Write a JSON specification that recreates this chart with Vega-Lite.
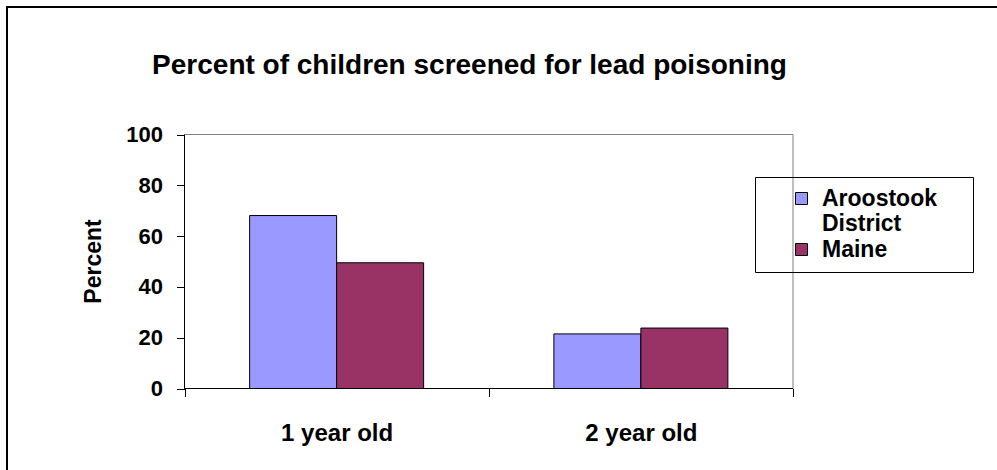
{
  "$schema": "https://vega.github.io/schema/vega-lite/v6.json",
  "width": 1000,
  "height": 470,
  "autosize": {"type": "none"},
  "padding": {"left": 7, "top": 7, "right": 0, "bottom": 0},
  "background": "white",
  "title": {
    "text": "Percent of children screened for lead poisoning",
    "font": "Liberation Sans",
    "fontSize": 28,
    "fontWeight": "bold",
    "color": "black",
    "anchor": "middle",
    "orient": "top",
    "baseline": "alphabetic",
    "offset": 0,
    "dx": -37.5,
    "dy": 95
  },
  "config": {
    "view": {"stroke": "black", "strokeWidth": 2},
    "axis": {"grid": false}
  },
  "layer": [
    {
      "data": {"values": [{"age": "1 year old"}, {"age": "2 year old"}]},
      "mark": {"type": "bar", "fillOpacity": 0, "stroke": "#808080", "strokeWidth": 1},
      "encoding": {
        "x": {
          "field": "age",
          "type": "nominal",
          "scale": {"type": "band", "domain": ["1 year old", "2 year old"], "paddingInner": 0, "paddingOuter": 0.6434, "align": 0.4534},
          "axis": {
            "orient": "bottom",
            "offset": -88.5,
            "domain": false,
            "tickBand": "extent",
            "tickSize": 8,
            "tickColor": "black",
            "labelAngle": 0,
            "labelPadding": 25,
            "labelFont": "Liberation Sans",
            "labelFontSize": 24,
            "labelFontWeight": "bold",
            "labelColor": "black",
            "title": null
          }
        },
        "y": {
          "datum": 100,
          "type": "quantitative",
          "scale": {"domain": [-34.84, 150.2], "nice": false, "zero": false},
          "axis": {
            "values": [0, 20, 40, 60, 80, 100],
            "offset": -177.5,
            "domain": false,
            "tickSize": 8,
            "tickColor": "black",
            "labelFont": "Liberation Sans",
            "labelFontSize": 22,
            "labelFontWeight": "bold",
            "labelColor": "black",
            "labelPadding": 14,
            "title": "Percent",
            "titleFont": "Liberation Sans",
            "titleFontSize": 23,
            "titleFontWeight": "bold",
            "titleColor": "black",
            "titlePadding": 20,
            "titleY": 254
          }
        },
        "y2": {"datum": 100}
      }
    },
    {
      "data": {"values": [{"age": "2 year old"}]},
      "mark": {"type": "rule", "color": "#808080", "strokeWidth": 1},
      "encoding": {
        "x": {"field": "age", "type": "nominal", "bandPosition": 1},
        "y": {"datum": 0, "type": "quantitative"},
        "y2": {"datum": 100}
      }
    },
    {
      "data": {"values": [
        {"age": "1 year old", "region": "Aroostook District", "percent": 68.1},
        {"age": "1 year old", "region": "Maine", "percent": 49.5},
        {"age": "2 year old", "region": "Aroostook District", "percent": 21.5},
        {"age": "2 year old", "region": "Maine", "percent": 23.8}
      ]},
      "mark": {"type": "bar", "stroke": "black", "strokeWidth": 1},
      "encoding": {
        "x": {"field": "age", "type": "nominal"},
        "xOffset": {
          "field": "region",
          "type": "nominal",
          "scale": {"domain": ["Aroostook District", "Maine"], "paddingInner": 0, "paddingOuter": 0.7486}
        },
        "y": {"field": "percent", "type": "quantitative"},
        "y2": {"datum": 0},
        "color": {
          "field": "region",
          "type": "nominal",
          "scale": {"domain": ["Aroostook District", "Maine"], "range": ["#9999FF", "#993366"]},
          "legend": {
            "orient": "none",
            "legendX": 748,
            "legendY": 170,
            "title": null,
            "strokeColor": "black",
            "fillColor": null,
            "padding": 10,
            "symbolType": "square",
            "symbolSize": 144,
            "symbolStrokeColor": "black",
            "symbolStrokeWidth": 1,
            "symbolOffset": 25,
            "labelFont": "Liberation Sans",
            "labelFontSize": 23,
            "labelFontWeight": "bold",
            "labelColor": "black",
            "labelOffset": 9,
            "labelLimit": 300,
            "labelExpr": "datum.label == 'Aroostook District' ? ['Aroostook\u00a0\u00a0\u00a0\u00a0\u200b', 'District'] : datum.label"
          }
        }
      }
    },
    {
      "data": {"values": [{"age": "1 year old"}, {"age": "2 year old"}]},
      "mark": {"type": "bar", "fillOpacity": 0, "stroke": "black", "strokeWidth": 1},
      "encoding": {
        "x": {"field": "age", "type": "nominal"},
        "y": {"datum": 0, "type": "quantitative"},
        "y2": {"datum": 0}
      }
    },
    {
      "data": {"values": [{"age": "1 year old"}]},
      "mark": {"type": "rule", "color": "black", "strokeWidth": 1},
      "encoding": {
        "x": {"field": "age", "type": "nominal", "bandPosition": 0},
        "y": {"datum": 0, "type": "quantitative"},
        "y2": {"datum": 100}
      }
    }
  ]
}
